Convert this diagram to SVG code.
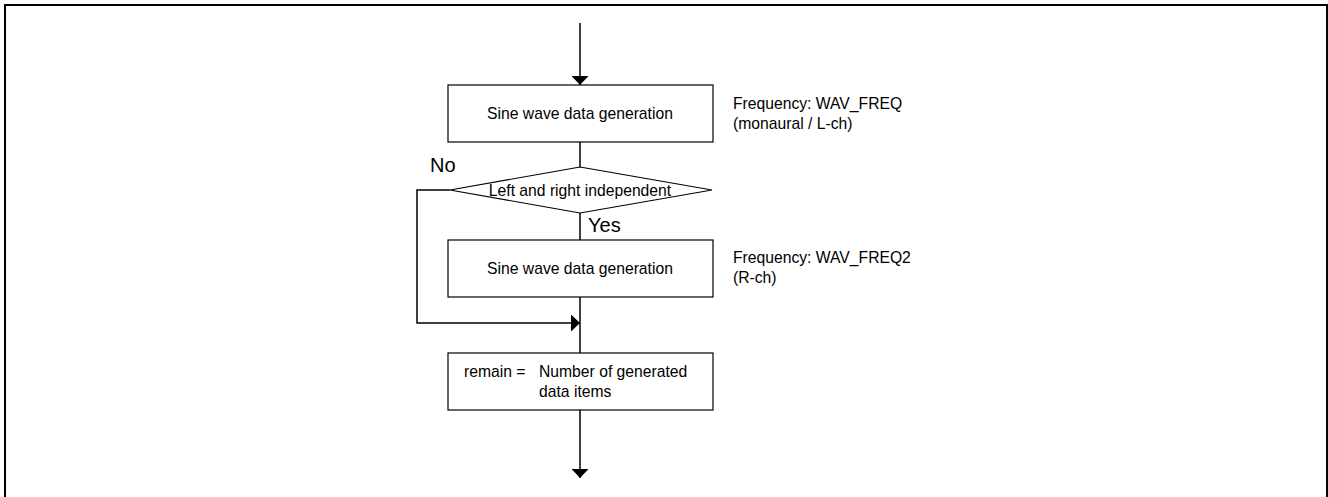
<svg xmlns="http://www.w3.org/2000/svg" width="1328" height="497" viewBox="0 0 1328 497">
<style>
.box{fill:#fff;stroke:#000;stroke-width:1.2}
.ln{fill:none;stroke:#000;stroke-width:1.5}
text{font-family:"Liberation Sans",Arial,sans-serif;fill:#000}
.t{font-size:15.7px}
.c{text-anchor:middle}
.yn{font-size:20px}
</style>
<defs>
<marker id="arr" viewBox="0 0 9 17" refX="9" refY="8.5" markerWidth="9" markerHeight="17" markerUnits="userSpaceOnUse" orient="auto">
<path d="M0,0 L9,8.5 L0,17 Z" fill="#000"/>
</marker>
</defs>
<rect x="5" y="5" width="1322" height="500" fill="none" stroke="#000" stroke-width="2"/>
<g id="connectors">
<line class="ln" x1="580" y1="23" x2="580" y2="85" marker-end="url(#arr)"/>
<line class="ln" x1="580" y1="142" x2="580" y2="167"/>
<line class="ln" x1="580" y1="213" x2="580" y2="240"/>
<line class="ln" x1="580" y1="297" x2="580" y2="353"/>
<polyline class="ln" points="450,190 417,190 417,323 580,323" marker-end="url(#arr)"/>
<line class="ln" x1="580" y1="410" x2="580" y2="478" marker-end="url(#arr)"/>
<text class="yn" x="430" y="172">No</text>
<text class="yn" x="588" y="232">Yes</text>
</g>
<g id="gen1">
<rect class="box" x="448" y="85" width="265" height="57"/>
<text class="t c" x="580" y="119">Sine wave data generation</text>
</g>
<g id="note1">
<text class="t" x="733" y="109">Frequency: WAV_FREQ</text>
<text class="t" x="733" y="129">(monaural / L-ch)</text>
</g>
<g id="decision">
<polygon class="box" points="580,167 712,190 580,213 450,190"/>
<text class="t c" x="580" y="196">Left and right independent</text>
</g>
<g id="gen2">
<rect class="box" x="448" y="240" width="265" height="57"/>
<text class="t c" x="580" y="274">Sine wave data generation</text>
</g>
<g id="note2">
<text class="t" x="733" y="263">Frequency: WAV_FREQ2</text>
<text class="t" x="733" y="283">(R-ch)</text>
</g>
<g id="remain">
<rect class="box" x="448" y="353" width="265" height="57"/>
<text class="t" x="464" y="377">remain =</text>
<text class="t" x="539" y="377">Number of generated</text>
<text class="t" x="539" y="397">data items</text>
</g>
</svg>
